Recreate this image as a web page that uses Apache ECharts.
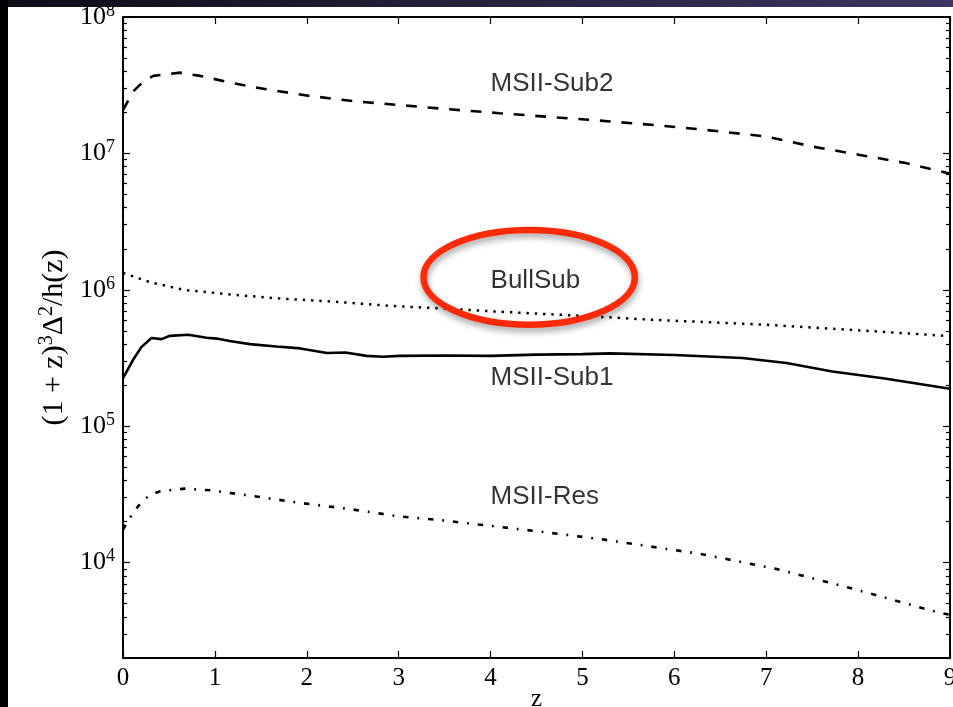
<!DOCTYPE html>
<html>
<head>
<meta charset="utf-8">
<script src="https://cdn.jsdelivr.net/npm/echarts@6/dist/echarts.min.js"></script>
<style>
  html, body { margin: 0; padding: 0; background: #ffffff; }
  #chart { width: 953px; height: 707px; }
</style>
</head>
<body>
<div id="chart"></div>
<script>
// Redshift sample points and (1+z)^3 Δ²/h(z) values for each simulation
const zSub2 = [0, 0.11, 0.22, 0.33, 0.62, 0.84, 1.2, 1.56, 2.03, 2.5, 3.01, 3.5, 4.1, 4.6, 5.19, 5.8, 6.33, 7.0, 7.51, 8.02, 8.53, 9.0];
const sub2Vals = [2.08e7, 2.84e7, 3.36e7, 3.70e7, 3.91e7, 3.70e7, 3.27e7, 2.95e7, 2.64e7, 2.42e7, 2.26e7, 2.12e7, 1.97e7, 1.86e7, 1.74e7, 1.61e7, 1.49e7, 1.33e7, 1.12e7, 9.75e6, 8.47e6, 7.1e6];

const zBull = [0, 0.29, 0.66, 1.2, 1.74, 2.29, 2.94, 3.5, 4.0, 4.5, 5.19, 5.76, 6.4, 7.0, 8.0, 9.0];
const bullVals = [1.33e6, 1.14e6, 1.0e6, 9.2e5, 8.6e5, 8.2e5, 7.6e5, 7.3e5, 6.96e5, 6.7e5, 6.34e5, 6.03e5, 5.78e5, 5.54e5, 5.05e5, 4.58e5];

const zSub1 = [0, 0.11, 0.2, 0.31, 0.42, 0.51, 0.71, 0.91, 1.02, 1.16, 1.38, 1.67, 1.93, 2.22, 2.42, 2.65, 2.83, 3.01, 3.5, 4.0, 4.5, 5.0, 5.3, 6.0, 6.74, 7.22, 7.72, 8.27, 9.0];
const sub1Vals = [2.25e5, 3.07e5, 3.80e5, 4.43e5, 4.35e5, 4.60e5, 4.68e5, 4.45e5, 4.39e5, 4.21e5, 4.00e5, 3.84e5, 3.72e5, 3.44e5, 3.47e5, 3.28e5, 3.23e5, 3.28e5, 3.30e5, 3.28e5, 3.35e5, 3.38e5, 3.42e5, 3.33e5, 3.16e5, 2.91e5, 2.52e5, 2.25e5, 1.88e5];

const zRes = [0, 0.09, 0.17, 0.28, 0.4, 0.67, 0.95, 1.38, 1.93, 2.47, 3.01, 3.48, 4.0, 4.6, 5.19, 6.28, 7.11, 7.91, 8.89, 9.0];
const resVals = [1.75e4, 2.21e4, 2.62e4, 3.10e4, 3.33e4, 3.49e4, 3.39e4, 3.10e4, 2.74e4, 2.47e4, 2.18e4, 2.04e4, 1.86e4, 1.67e4, 1.49e4, 1.16e4, 9.0e3, 6.53e3, 4.28e3, 4.15e3];

// Curve names and where they are written (z, value at text centre)
const labelNames = ['MSII-Sub2', 'BullSub', 'MSII-Sub1', 'MSII-Res'];
const labelZ = [4.0, 4.0, 4.0, 4.0];
const labelVals = [3.23e7, 1.16e6, 2.27e5, 3.05e4];

// Axis ticks
const xTicks = [0, 1, 2, 3, 4, 5, 6, 7, 8, 9];
const yMajor = [1e4, 1e5, 1e6, 1e7, 1e8];
const yMinor = [];
[1e3, 1e4, 1e5, 1e6, 1e7].forEach(function (d) {
  for (let k = 2; k <= 9; k++) {
    const v = k * d;
    if (v >= 2000 && v <= 1e8) yMinor.push(v);
  }
});

// Highlight ring around the BullSub label, in data units
const ringZ = [3.27, 5.57];
const ringVals = [5.55e5, 2.75e6];

const serif = '"Liberation Serif", "DejaVu Serif", serif';
const sans = '"Liberation Sans", Arial, Helvetica, sans-serif';

function pairs(xs, ys) { return xs.map(function (x, i) { return [x, ys[i]]; }); }

const chart = echarts.init(document.getElementById('chart'), null, { renderer: 'canvas' });

const axisLine = { show: true, lineStyle: { color: '#000', width: 2 } };

function yAxisDef(pos, ticks, len, withLine, withLabels) {
  return {
    type: 'log', logBase: 10, min: 2000, max: 1e8, position: pos,
    axisLine: withLine ? axisLine : { show: false },
    splitLine: { show: false },
    axisTick: { show: true, inside: true, length: len, customValues: ticks, lineStyle: { color: '#000', width: 1.2 } },
    axisLabel: withLabels ? {
      show: true, customValues: yMajor, margin: 8, color: '#000',
      formatter: function (v) { return '{b|10}{s|' + Math.round(Math.log10(v)) + '}'; },
      rich: {
        b: { fontFamily: serif, fontSize: 26, color: '#000' },
        s: { fontFamily: serif, fontSize: 18, color: '#000', padding: [0, 0, 12, 0] }
      }
    } : { show: false },
    name: withLabels ? '(1 + z){s|3}Δ{s|2}/h(z)' : '',
    nameLocation: 'middle',
    nameRotate: 90,
    nameGap: 50,
    nameTextStyle: {
      fontFamily: serif, fontSize: 30, color: '#000',
      rich: { s: { fontFamily: serif, fontSize: 20, color: '#000', padding: [0, 0, 14, 0] } }
    }
  };
}

const option = {
  backgroundColor: '#ffffff',
  animation: false,
  grid: { left: 123, right: 3, top: 17, bottom: 49, containLabel: false, outerBoundsMode: 'none' },
  xAxis: [
    {
      type: 'value', min: 0, max: 9, interval: 1, position: 'bottom',
      axisLine: axisLine,
      splitLine: { show: false },
      axisTick: { show: true, inside: true, length: 7, customValues: xTicks, lineStyle: { color: '#000', width: 1.2 } },
      axisLabel: { show: true, customValues: xTicks, margin: 8, fontFamily: serif, fontSize: 25, color: '#000' },
      name: 'z', nameLocation: 'middle', nameGap: 29, nameMoveOverlap: false,
      nameTextStyle: { fontFamily: serif, fontSize: 25, color: '#000' }
    },
    {
      type: 'value', min: 0, max: 9, interval: 1, position: 'top',
      axisLine: axisLine,
      splitLine: { show: false },
      axisTick: { show: true, inside: true, length: 7, customValues: xTicks, lineStyle: { color: '#000', width: 1.2 } },
      axisLabel: { show: false }
    }
  ],
  yAxis: [
    yAxisDef('left', yMajor, 7, true, true),
    yAxisDef('left', yMinor, 4, false, false),
    yAxisDef('right', yMajor, 7, true, false),
    yAxisDef('right', yMinor, 4, false, false)
  ],
  series: [
    {
      name: 'MSII-Sub2', type: 'line', data: pairs(zSub2, sub2Vals), showSymbol: false, symbol: 'none',
      lineStyle: { color: '#000', width: 2.6, type: [10.8, 10.8], cap: 'butt' }
    },
    {
      name: 'BullSub', type: 'line', data: pairs(zBull, bullVals), showSymbol: false, symbol: 'none',
      lineStyle: { color: '#000', width: 2.5, type: [2.4, 5.9], cap: 'butt' }
    },
    {
      name: 'MSII-Sub1', type: 'line', data: pairs(zSub1, sub1Vals), showSymbol: false, symbol: 'none',
      lineStyle: { color: '#000', width: 2.6 }
    },
    {
      name: 'MSII-Res', type: 'line', data: pairs(zRes, resVals), showSymbol: false, symbol: 'none',
      lineStyle: { color: '#000', width: 2.6, type: [5.4, 8.9, 1.8, 8.9], cap: 'butt' }
    },
    {
      name: 'labels', type: 'scatter', symbolSize: 0, silent: true,
      data: labelNames.map(function (n, i) { return { name: n, value: [labelZ[i], labelVals[i]] }; }),
      label: {
        show: true, position: 'right', distance: 0, formatter: '{b}',
        fontFamily: sans, fontSize: 26, color: '#000'
      }
    }
  ]
};

chart.setOption(option);

// Frame strips and the red highlight ring
const c0 = chart.convertToPixel({ xAxisIndex: 0, yAxisIndex: 0 }, [ringZ[0], ringVals[1]]);
const c1 = chart.convertToPixel({ xAxisIndex: 0, yAxisIndex: 0 }, [ringZ[1], ringVals[0]]);

chart.setOption({
  graphic: [
    {
      type: 'ellipse', z: 100,
      shape: { cx: (c0[0] + c1[0]) / 2, cy: (c0[1] + c1[1]) / 2, rx: (c1[0] - c0[0]) / 2, ry: (c1[1] - c0[1]) / 2 },
      style: {
        fill: null, stroke: '#ff2a06', lineWidth: 6.5,
        shadowBlur: 6, shadowColor: 'rgba(0,0,0,0.35)', shadowOffsetX: 1, shadowOffsetY: 4
      }
    },
    {
      type: 'rect', z: 200, left: 0, top: 0,
      shape: { width: 953, height: 7 },
      style: {
        fill: new echarts.graphic.LinearGradient(0, 0, 1, 0, [
          { offset: 0, color: '#0d0c16' },
          { offset: 1, color: '#3a3860' }
        ])
      }
    },
    {
      type: 'rect', z: 201, left: 0, top: 0,
      shape: { width: 8, height: 707 },
      style: { fill: '#000000' }
    }
  ]
});
</script>
</body>
</html>
